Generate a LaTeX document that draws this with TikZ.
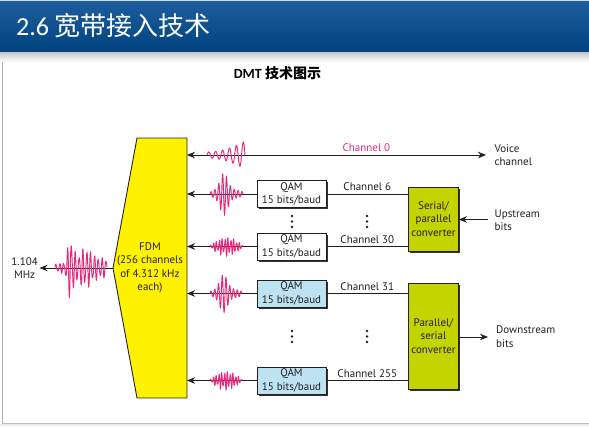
\documentclass[tikz,border=0pt]{standalone}
\usepackage{fontspec}
\setmainfont{PT Sans}
\newfontfamily\cjkfont{Noto Sans CJK SC}
\newfontfamily\latinhead{Carlito}
\usetikzlibrary{arrows.meta,shadows}

\definecolor{barTop}{HTML}{1E5D9E}
\definecolor{barBot}{HTML}{00437F}
\definecolor{fdmYellow}{HTML}{FFF200}
\definecolor{convGreen}{HTML}{C4D400}
\definecolor{qamBlue}{HTML}{BDE3F2}
\definecolor{wavePink}{HTML}{E8287C}
\definecolor{lineGray}{HTML}{231F20}

\tikzset{
  txt/.style={font=\fontsize{11}{13.4}\selectfont, text=lineGray},
  boxshadow/.style={drop shadow={shadow xshift=1.8pt, shadow yshift=-1.8pt, fill=black!80, opacity=1}},
  qambox/.style={txt, draw=lineGray, line width=0.8pt, minimum width=69pt, minimum height=27pt,
                 inner sep=0pt, align=center, boxshadow},
  convbox/.style={txt, draw=lineGray, line width=0.8pt, fill=convGreen, minimum width=50pt,
                  inner sep=0pt, align=center, boxshadow},
  link/.style={draw=lineGray, line width=1pt},
  tip/.style={},
  arr/.style={link, -{Stealth[length=8pt, width=6.5pt, inset=2.5pt]}},
  darr/.style={link, {Stealth[length=8pt, width=6.5pt, inset=2.5pt]}-{Stealth[length=8pt, width=6.5pt, inset=2.5pt]}},
  chlabel/.style={txt, above=2.6pt, inner sep=0pt},
  wave/.style={draw=wavePink, line width=0.95pt},
  sidetext/.style={txt, anchor=west, align=left, inner sep=0pt},
}

\begin{document}
\begin{tikzpicture}[x=1pt, y=-1pt]
\useasboundingbox (0,0) rectangle (589,426);
\fill[white] (0,0) rectangle (589,426);

% slide header
\shade[top color=barTop, bottom color=barBot] (0,0) rectangle (589,52);
\fill[white!80!barTop] (0,0) rectangle (589,1);
\shade[top color=black!22, bottom color=white] (0,52) rectangle (589,62);
\node[anchor=west, text=white, inner sep=0pt, font=\fontsize{26}{30}\selectfont] (title) at (16,26)
  {\latinhead 2.6 \cjkfont 宽带接入技术};
\node[inner sep=0pt, font=\fontsize{14}{16}\selectfont\bfseries] (subtitle) at (277.5,73)
  {\latinhead DMT \cjkfont 技术图示};

% slide frame
\draw[black!30, line width=0.8pt] (2,62) -- (2,423);
\draw[black!25, line width=0.8pt] (2,423) -- (589,423);
\fill[blue!10!black!8] (0,424) rectangle (589,426);

% FDM block
\coordinate (fdmA) at (137,138);
\coordinate (fdmB) at (187,138);
\coordinate (fdmC) at (187,398);
\coordinate (fdmD) at (137,398);
\coordinate (fdmE) at (113,268);
\draw[fill=fdmYellow, draw=lineGray, line width=0.9pt] (fdmA) -- (fdmB) -- (fdmC) -- (fdmD) -- (fdmE) -- cycle;
\node[txt, align=center, inner sep=0pt] (fdm) at (150,268) {FDM\\(256 channels\\of 4.312 kHz\\each)};

% QAM modulators
\node[qambox, fill=white]   (qam6)   at (291.5,194) {QAM\\15 bits/baud};
\node[qambox, fill=white]   (qam30)  at (291.5,246.5) {QAM\\15 bits/baud};
\node[qambox, fill=qamBlue] (qam31)  at (291.5,293.5) {QAM\\15 bits/baud};
\node[qambox, fill=qamBlue] (qam255) at (291.5,380.5) {QAM\\15 bits/baud};

% converters
\node[convbox, minimum height=64pt]  (sp) at (433.5,219) {Serial/\\parallel\\converter};
\node[convbox, minimum height=106pt] (ps) at (433.5,336) {Parallel/\\serial\\converter};

% outside ends
\coordinate (voice) at (486,155);
\coordinate (upin)  at (488,219.5);
\coordinate (downout) at (488,337);
\node[txt, anchor=east, align=center, inner sep=1.5pt] (mhz) at (39.5,268) {1.104\\MHz};
\node[sidetext] (voiceT) at (494.5,155) {Voice\\channel};
\node[sidetext] (upT)    at (494.5,220) {Upstream\\bits};
\node[sidetext] (downT)  at (496,336.5) {Downstream\\bits};

% channels
\draw[darr] (fdmB |- voice) -- node[chlabel, pos=0.6, text=wavePink] {Channel 0} (voice);
\draw[link] (qam6.east)   -- node[chlabel] {Channel 6}   (qam6.east -| sp.west);
\draw[link] (qam30.east)  -- node[chlabel] {Channel 30}  (qam30.east -| sp.west);
\draw[link] (qam31.east)  -- node[chlabel] {Channel 31}  (qam31.east -| ps.west);
\draw[link] (qam255.east) -- node[chlabel] {Channel 255} (qam255.east -| ps.west);
\draw[arr] (qam6.west)   -- (qam6.west -| fdmB);
\draw[arr] (qam30.west)  -- (qam30.west -| fdmB);
\draw[arr] (qam31.west)  -- (qam31.west -| fdmB);
\draw[arr] (qam255.west) -- (qam255.west -| fdmB);
\draw[arr] (upin) -- (sp.east |- upin);
\draw[arr] (ps.east |- downout) -- (downout);
\draw[arr] (fdmE) -- (mhz.east);

% elided rows
\foreach \cx in {292,367}{
  \foreach \cy in {216,221.5,227,331,336.5,342}{
    \fill[lineGray] (\cx,\cy) circle (1.4);
  }
}

% carrier waveforms
\draw[wave] plot[domain=0:1, samples=260] ({207+38*\x}, {155-(3+11*\x*\x)*sin(5.5*360*\x)});
\draw[wave] plot[domain=0:1, samples=300] ({210+33*\x}, {194-(2+16*exp(-((\x-0.42)/0.16)^2)+6*\x*(1-\x)*2)*sin(8.5*360*\x)});
\draw[wave] plot[domain=0:1, samples=300] ({210+33*\x}, {246.5-(1+8*sin(180*\x))*(0.8*sin(11.5*360*\x)+0.25*sin(17*360*\x+60))});
\draw[wave] plot[domain=0:1, samples=300] ({210+32*\x}, {293.5-(2+14*exp(-((\x-0.42)/0.16)^2)+6*\x*(1-\x)*2)*sin(8.5*360*\x)});
\draw[wave] plot[domain=0:1, samples=300] ({210+32*\x}, {380.5-(1+8*sin(180*\x))*(0.8*sin(11.5*360*\x)+0.25*sin(17*360*\x+60))});
\draw[wave] plot[domain=0:1, samples=500] ({55+52*\x},
  {268-(4+26*exp(-((\x-0.3)/0.07)^2)+12*exp(-((\x-0.58)/0.18)^2)+6*\x)*(0.85*sin(13.5*360*\x)+0.2*sin(21*360*\x+30))});
\end{tikzpicture}
\end{document}
